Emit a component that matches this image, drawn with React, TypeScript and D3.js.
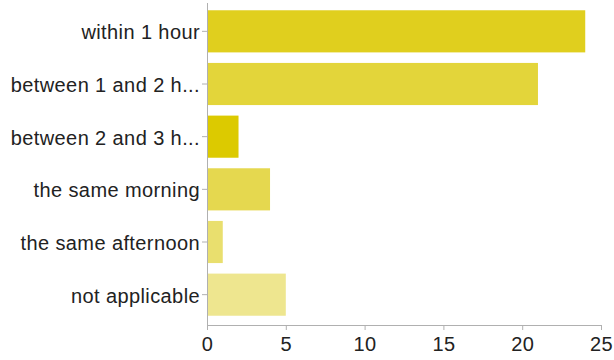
import { useEffect, useRef } from "react";
import * as d3 from "d3";

const categories = [
  "within 1 hour",
  "between 1 and 2 h...",
  "between 2 and 3 h...",
  "the same morning",
  "the same afternoon",
  "not applicable",
];
const counts = [24, 21, 2, 4, 1, 5];
const barColors = ["#e0cf1e", "#e3d53a", "#dcca00", "#e5d84f", "#e9df6e", "#eee68f"];
const xTicks = [0, 5, 10, 15, 20, 25];

export default function App() {
  const svgRef = useRef<SVGSVGElement | null>(null);

  useEffect(() => {
    const width = 614;
    const height = 360;
    const margin = { top: 5, right: 13, bottom: 35, left: 207 };

    const svg = d3.select(svgRef.current);
    svg.selectAll("*").remove();

    const x = d3.scaleLinear().domain([0, 25]).range([margin.left, width - margin.right]);
    const y = d3
      .scaleBand<string>()
      .domain(categories)
      .range([margin.top, 321])
      .paddingInner(0.2)
      .paddingOuter(0.1);

    const font = "'Liberation Sans', Arial, Helvetica, sans-serif";

    svg
      .append("g")
      .selectAll("rect")
      .data(categories)
      .join("rect")
      .attr("x", x(0) + 1)
      .attr("y", (d) => y(d)!)
      .attr("width", (d, i) => x(counts[i]) - x(0) - 1)
      .attr("height", y.bandwidth())
      .attr("fill", (d, i) => barColors[i]);

    // y axis
    const yAxis = svg
      .append("g")
      .attr("transform", `translate(${margin.left},0)`)
      .call(d3.axisLeft(y).tickSize(5).tickPadding(2).tickSizeOuter(0));
    yAxis.select(".domain").attr("d", `M0.5,3V${height - margin.bottom}`);
    yAxis.selectAll(".tick text").attr("dy", "0.4em");

    // x axis
    svg
      .append("g")
      .attr("transform", `translate(0,${height - margin.bottom})`)
      .call(d3.axisBottom(x).tickValues(xTicks).tickSize(5).tickPadding(7).tickSizeOuter(0));

    svg.selectAll(".domain, .tick line").attr("stroke", "#b0b0b0");
    svg
      .selectAll(".tick text")
      .attr("fill", "#222")
      .style("font-family", font)
      .style("font-size", "20px")
      .style("letter-spacing", "0.4px");
  }, []);

  return (
    <svg
      ref={svgRef}
      width={614}
      height={360}
      style={{ position: "absolute", left: 0, top: 0, background: "#fff" }}
    />
  );
}
